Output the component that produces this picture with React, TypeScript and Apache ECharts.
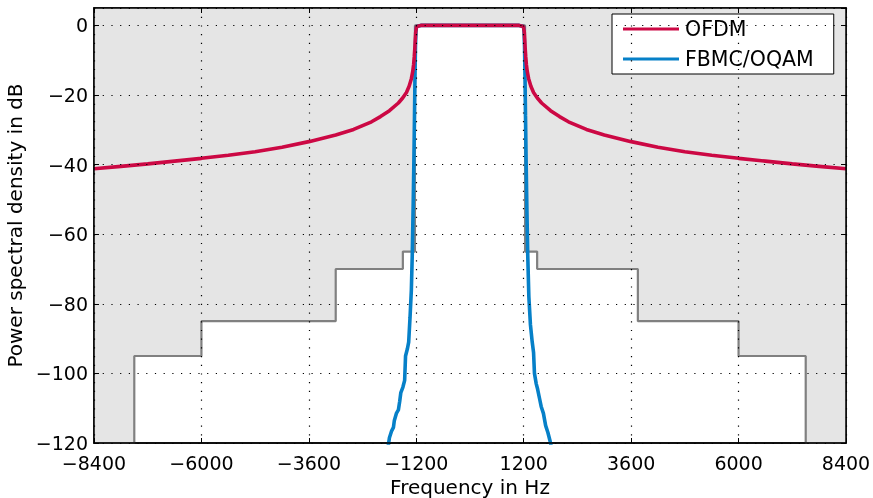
import React, { useEffect, useRef } from "react";
import * as echarts from "echarts";

const xTicks = [-8400, -6000, -3600, -1200, 1200, 3600, 6000, 8400];
const yTicks = [-120, -100, -80, -60, -40, -20, 0];

const ofdmFreq = [
  -8400, -7800, -7200, -6600, -6000, -5400, -4800, -4200, -3600, -3000, -2600, -2200, -2000,
  -1800, -1600, -1500, -1420, -1360, -1310, -1280, -1260, -1245, -1232, -1222, -1212, -1195,
  -1100, 0, 1100, 1195, 1212, 1222, 1232, 1245, 1260, 1280, 1310, 1360, 1420, 1500, 1600,
  1800, 2000, 2200, 2600, 3000, 3600, 4200, 4800, 5400, 6000, 6600, 7200, 7800, 8400,
];
const ofdmPsd = [
  -41.2, -40.5, -39.8, -39.0, -38.2, -37.3, -36.3, -35.0, -33.4, -31.5, -29.9, -27.7, -26.2,
  -24.5, -22.3, -20.8, -19.3, -17.5, -15.3, -13.3, -11.3, -9.0, -6.5, -4.0, -1.8, -0.3,
  0, 0, 0, -0.3, -1.8, -4.0, -6.5, -9.0, -11.3, -13.3, -15.3, -17.5, -19.3, -20.8, -22.3,
  -24.5, -26.2, -27.7, -29.9, -31.5, -33.4, -35.0, -36.3, -37.3, -38.2, -39.0, -39.8, -40.5, -41.2,
];

const fbmcFreq = [
  -1840, -1800, -1750, -1710, -1690, -1645, -1600, -1570, -1545, -1500, -1460, -1440, -1400,
  -1370, -1340, -1310, -1290, -1270, -1255, -1240, -1228, -1218, -1208, -1195, -1100,
  1100, 1195, 1208, 1218, 1228, 1240, 1255, 1270, 1290, 1315, 1350, 1390, 1420, 1440, 1480,
  1510, 1550, 1590, 1640, 1690, 1740, 1790, 1830,
];
const fbmcPsd = [
  -122, -118.5, -116.5, -115.5, -113.5, -111.5, -110.5, -108, -105.5, -104, -102, -95, -93,
  -91, -84, -76, -66, -52, -40, -26, -14, -6, -2, -0.3, 0,
  0, -0.3, -2, -6, -14, -26, -40, -52, -66, -78, -86, -91, -94, -100, -103,
  -104.5, -107, -109.5, -111.5, -115, -117, -119.5, -122,
];

const maskFreq = [
  -8400, -7500, -7500, -6000, -6000, -3000, -3000, -1500, -1500, -1230, -1230,
  1230, 1230, 1500, 1500, 3750, 3750, 6000, 6000, 7500, 7500, 8400,
];
const maskLevel = [
  -120, -120, -95, -95, -85, -85, -70, -70, -65, -65, 0,
  0, -65, -65, -70, -70, -85, -85, -95, -95, -120, -120,
];

const FONT = "DejaVu Sans";
const fmt = (v: number) => String(v).replace("-", "\u2212");
const pairs = (xs: number[], ys: number[]) => xs.map((x, i) => [x, ys[i]]);

export default function App() {
  const ref = useRef<HTMLDivElement>(null);
  useEffect(() => {
    if (!ref.current) return;
    const chart = echarts.init(ref.current, null, { renderer: "svg" });
    const axisLine = { show: true, onZero: false, lineStyle: { color: "#000", width: 1.5 } };
    const grid = { color: "#000", width: 1.2, type: [1.2, 7.5] };
    chart.setOption({
      animation: false,
      textStyle: { fontFamily: FONT },
      grid: {
        left: 94, top: 8, width: 752, height: 435, outerBoundsMode: "none", containLabel: false,
        show: true, borderColor: "#000", borderWidth: 1.5, backgroundColor: "#fff",
      },
      legend: {
        orient: "vertical",
        left: 612, top: 14,
        data: ["OFDM", "FBMC/OQAM"],
        icon: "rect", itemWidth: 56, itemHeight: 3, itemGap: 8,
        backgroundColor: "#fff", borderColor: "#000", borderWidth: 1, borderRadius: 0,
        padding: [4, 20, 4, 11],
        textStyle: { fontFamily: FONT, fontSize: 20.5, color: "#000", lineHeight: 22, padding: [0, 0, 0, 1] },
      },
      xAxis: [
        {
          type: "value", min: -8400, max: 8400, position: "bottom", z: 10,
          name: "Frequency in Hz", nameLocation: "middle", nameGap: 33,
          nameTextStyle: { fontFamily: FONT, fontSize: 20, color: "#000", lineHeight: 20 },
          axisLine,
          axisTick: { show: true, inside: true, length: 5, customValues: xTicks, lineStyle: { color: "#000" } },
          axisLabel: {
            customValues: xTicks, formatter: fmt, color: "#000", fontFamily: FONT, fontSize: 19,
            margin: 12, lineHeight: 15,
          },
          splitLine: { show: true, lineStyle: grid },
        },
        {
          type: "value", min: -8400, max: 8400, position: "top", z: 10,
          axisLine,
          axisTick: { show: true, inside: true, length: 5, customValues: xTicks, lineStyle: { color: "#000" } },
          axisLabel: { show: false },
          splitLine: { show: false },
        },
      ],
      yAxis: [
        {
          type: "value", min: -120, max: 5, interval: 20, position: "left", z: 10,
          name: "Power spectral density in dB", nameLocation: "middle", nameGap: 62,
          nameTextStyle: { fontFamily: FONT, fontSize: 20, color: "#000" },
          axisLine,
          axisTick: { show: true, inside: true, length: 5, lineStyle: { color: "#000" } },
          axisLabel: {
            color: "#000", fontFamily: FONT, fontSize: 19, margin: 6, showMaxLabel: false, lineHeight: 15,
            formatter: (v: number) => (yTicks.includes(v) ? fmt(v) : ""),
          },
          splitLine: { show: true, lineStyle: grid },
        },
        {
          type: "value", min: -120, max: 5, interval: 20, position: "right", z: 10,
          axisLine,
          axisTick: { show: true, inside: true, length: 5, lineStyle: { color: "#000" } },
          axisLabel: { show: false },
          splitLine: { show: false },
        },
      ],
      series: [
        {
          name: "mask", type: "line", data: pairs(maskFreq, maskLevel), symbol: "none", z: 1,
          lineStyle: { color: "#808080", width: 2.2 },
          areaStyle: { origin: "end", color: "#e5e5e5", opacity: 1 },
          silent: true,
        },
        {
          name: "FBMC/OQAM", type: "line", data: pairs(fbmcFreq, fbmcPsd), symbol: "none", z: 3,
          lineStyle: { color: "#0680c8", width: 3.6 }, itemStyle: { color: "#0680c8" }, clip: true,
        },
        {
          name: "OFDM", type: "line", data: pairs(ofdmFreq, ofdmPsd), symbol: "none", z: 4,
          lineStyle: { color: "#cc0844", width: 3.6 }, itemStyle: { color: "#cc0844" }, clip: true,
        },
      ],
    });
    return () => chart.dispose();
  }, []);
  return <div ref={ref} style={{ position: "fixed", left: 0, top: 0, width: 873, height: 498 }} />;
}
